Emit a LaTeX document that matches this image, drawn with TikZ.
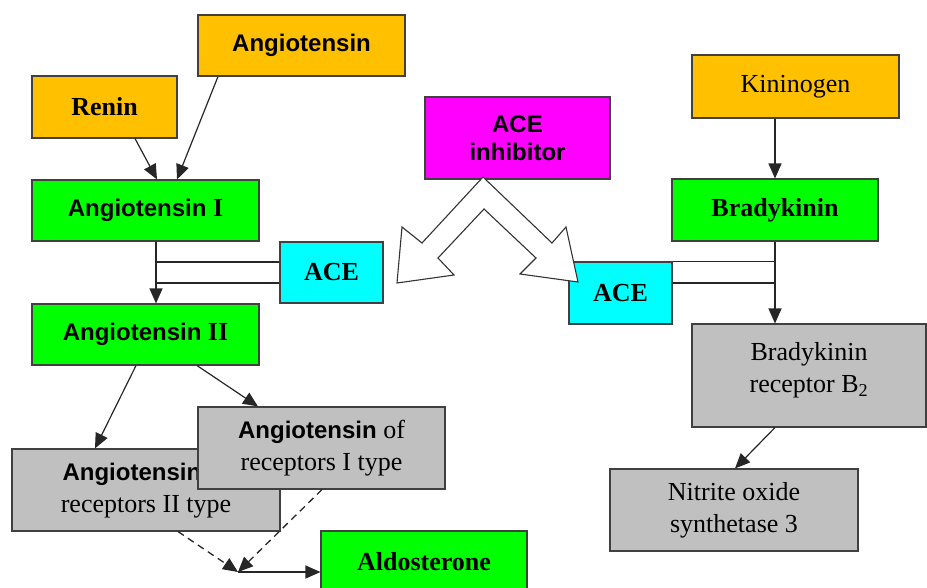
\documentclass[tikz,border=0pt]{standalone}
\usepackage{fontspec}
\setmainfont{Liberation Serif}
\setsansfont{Liberation Sans}
\usetikzlibrary{arrows.meta}
\definecolor{orng}{HTML}{FFC000}
\definecolor{grn}{HTML}{00FF00}
\definecolor{cyn}{HTML}{00FFFF}
\definecolor{mgn}{HTML}{FF00FF}
\definecolor{gry}{HTML}{C0C0C0}
\newcommand\sfb[1]{{\fontsize{24}{32}\selectfont\sffamily\bfseries #1}}
\begin{document}
\begin{tikzpicture}[x=1pt,y=-1pt,
  box/.style={draw=black!75,line width=1.1pt,inner sep=0pt,align=center,font=\fontsize{26}{32}\selectfont},
  orbox/.style={box,fill=orng},
  grbox/.style={box,fill=grn},
  cybox/.style={box,fill=cyn},
  mgbox/.style={box,fill=mgn},
  gybox/.style={box,fill=gry},
  arr/.style={line width=1.2pt,draw=black!85,-{Triangle[length=15pt,width=13pt]}},
  ln/.style={line width=1.1pt,draw=black!85},
  dsh/.style={arr,line width=1.3pt,dash pattern=on 7pt off 5pt},
  chev/.style={draw=black!80,line width=1.1pt,fill=white,line join=miter}]
\useasboundingbox (0,0) rectangle (927,587);
% left side
\node[orbox,minimum width=207pt,minimum height=61pt] (angio) at (301.5,45.5) {\sfb{Angiotensin}};
\node[orbox,minimum width=145pt,minimum height=62pt] (renin) at (104.5,107) {\textbf{Renin}};
\node[grbox,minimum width=227pt,minimum height=61pt] (angI) at (145.5,210.5) {\sfb{Angiotensin} \textbf{I}};
\node[cybox,minimum width=103pt,minimum height=61pt] (aceL) at (331.5,272.5) {\textbf{ACE}};
\node[grbox,minimum width=227pt,minimum height=61pt] (angII) at (145.5,334.5) {\sfb{Angiotensin} \textbf{II}};
\node[gybox,minimum width=268pt,minimum height=82pt] (recII) at (146,490) {\sfb{Angiotensin} of\\receptors II type};
\node[gybox,minimum width=247pt,minimum height=82pt] (recI) at (321.5,448) {\sfb{Angiotensin} of\\receptors I type};
\node[grbox,minimum width=206pt,minimum height=61pt] (aldo) at (424,561.5) {\textbf{Aldosterone}};
% middle
\node[mgbox,minimum width=185pt,minimum height=82pt,font=\fontsize{24}{28}\selectfont\sffamily\bfseries] (inhib) at (517.5,138) {ACE\\inhibitor};
% right side
\node[orbox,minimum width=207pt,minimum height=63pt] (kinin) at (795.5,86.5) {Kininogen};
\node[grbox,minimum width=206pt,minimum height=62pt] (brady) at (775,210) {\textbf{Bradykinin}};
\node[cybox,minimum width=103pt,minimum height=62pt] (aceR) at (620.5,293) {\textbf{ACE}};
\node[gybox,minimum width=234pt,minimum height=103pt] (recB) at (809,375.5) {Bradykinin\\receptor B\textsubscript{2}\\[-16pt]};
\node[gybox,minimum width=248pt,minimum height=82pt] (nos) at (734,510) {Nitrite oxide\\synthetase 3};
% hollow double arrow
\draw[chev] (483,177) -- (422,243) -- (402,227) -- (397,283) -- (454,275) -- (438,258) -- (484,209)
  -- (536,258) -- (520,274) -- (578,282) -- (566,227) -- (552,243) -- cycle;
% connectors left
\draw[arr] ([xshift=30.5pt]renin.south) -- ([xshift=11.5pt]angI.north);
\draw[arr] ([xshift=-83.5pt]angio.south) -- ([xshift=31.5pt]angI.north);
\coordinate (axL) at ([xshift=10.5pt]angI.south);
\draw[arr] (axL) -- ([xshift=10.5pt]angII.north);
\draw[ln] ([yshift=10.5pt]aceL.west) -- ([yshift=10.5pt]aceL.west -| axL);
\draw[ln] ([yshift=-10.5pt]aceL.west) -- ([yshift=-10.5pt]aceL.west -| axL);
\draw[arr] ([xshift=-9.5pt]angII.south) -- ([xshift=-51pt]recII.north);
\draw[arr] ([xshift=51.5pt]angII.south) -- ([xshift=-63.5pt]recI.north);
\coordinate (junc) at (238,572);
\draw[dsh] ([xshift=32pt]recII.south) -- (junc);
\draw[dsh] ([xshift=0.5pt]recI.south) -- (junc);
\draw[arr] (junc) -- (junc -| aldo.west);
% connectors right
\draw[arr] ([xshift=-20.5pt]kinin.south) -- (brady.north);
\coordinate (axR) at (brady.south);
\draw[arr] (axR) -- ([xshift=-34pt]recB.north);
\draw[ln] (aceR.north east) -- (aceR.north east -| axR);
\draw[ln] ([yshift=10pt]aceR.east) -- ([yshift=10pt]aceR.east -| axR);
\draw[arr] ([xshift=-34pt]recB.south) -- ([xshift=1pt]nos.north);
\end{tikzpicture}
\end{document}
